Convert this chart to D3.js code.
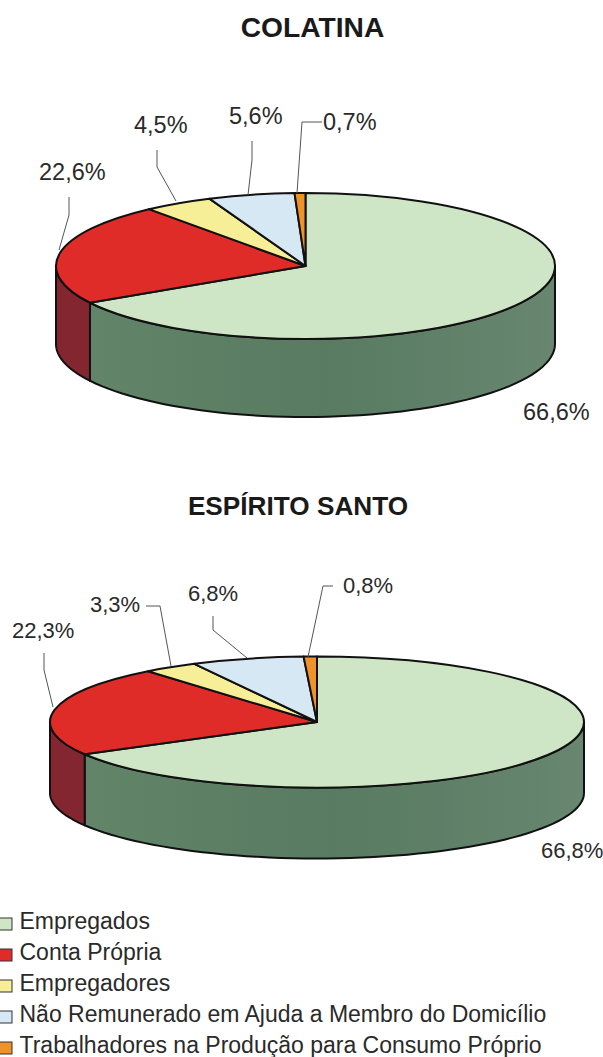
<!DOCTYPE html>
<html><head><meta charset="utf-8">
<script src="https://cdn.jsdelivr.net/npm/d3@7/dist/d3.min.js"></script>
<style>html,body{margin:0;padding:0;background:#fff}svg{display:block}text{font-family:"Liberation Sans",Arial,sans-serif;fill:#2a2a2a}</style>
</head><body><svg id="c" width="603" height="1057"></svg>
<script>
const categories = ["Empregados","Conta Própria","Empregadores","Não Remunerado em Ajuda a Membro do Domicílio","Trabalhadores na Produção para Consumo Próprio"];
const colatinaValues = [66.6,22.6,4.5,5.6,0.7];
const espiritoValues = [66.8,22.3,3.3,6.8,0.8];
const colatinaLabels = ["66,6%","22,6%","4,5%","5,6%","0,7%"];
const espiritoLabels = ["66,8%","22,3%","3,3%","6,8%","0,8%"];
const topColors = ["#cfe6c6","#e02c28","#f7ef98","#d6e8f4","#ee9229"];
const sideColors = ["url(#greenSide)","#84262f","#a8a060","#8ea0ac","#a86a20"];

const layouts = [
 {title:"COLATINA",titleX:312.5,titleY:36.5,titleFs:28.2,values:colatinaValues,labels:colatinaLabels,cx:305.5,cy:266,rx:249.5,ry:73,depth:78,fs:23.5,
  labelPos:[[523,420],[39,180],[134,133],[229,124],[323,130]],
  leaders:[null,[[69,197],[69,215],[59,250]],[[157,150],[157,167],[176,201]],[[252,141],[252,160],[248,195]],[[322,122],[302,122],[297,193]]]},
 {title:"ESPÍRITO SANTO",titleX:298,titleY:515,titleFs:26.2,values:espiritoValues,labels:espiritoLabels,cx:317,cy:722,rx:267,ry:65.5,depth:71,fs:22,
  labelPos:[[541,858],[12,638],[90,612],[188,601],[343,593]],
  leaders:[null,[[44,653],[44,670],[53,707]],[[146,606],[160,606],[171,666]],[[213,616],[213,630],[247,658]],[[333,586],[323,586],[308,657]]]}
];

const svg = d3.select("#c");
const grad = svg.append("defs").append("linearGradient").attr("id","greenSide");
[[0,"#628569"],[0.5,"#587b61"],[1,"#688670"]].forEach(s=>grad.append("stop").attr("offset",s[0]).attr("stop-color",s[1]));
const pie = d3.pie().sort(null).value(d=>d);

layouts.forEach(L=>{
  svg.append("text").attr("x",L.titleX).attr("y",L.titleY).attr("text-anchor","middle")
     .attr("font-size",L.titleFs).attr("font-weight","bold").style("fill","#1a1a1a").text(L.title);
  const arcs = pie(L.values);
  const px = a=>L.cx+L.rx*Math.sin(a), py = a=>L.cy-L.ry*Math.cos(a);
  const g = svg.append("g");
  arcs.forEach((d,i)=>{
    const a0=Math.max(d.startAngle,Math.PI/2), a1=Math.min(d.endAngle,Math.PI*1.5);
    if(a1<=a0) return;
    const ts=d3.range(0,61).map(k=>a0+(a1-a0)*k/60);
    const pts=ts.map(t=>[px(t),py(t)]).concat(ts.slice().reverse().map(t=>[px(t),py(t)+L.depth]));
    g.append("path").attr("d",d3.line()(pts)+"Z").attr("fill",sideColors[i]).attr("stroke","#111").attr("stroke-width",2).attr("stroke-linejoin","round");
  });
  const arc=d3.arc().innerRadius(0).outerRadius(L.rx);
  const top=svg.append("g").attr("transform",`translate(${L.cx},${L.cy}) scale(1,${L.ry/L.rx})`);
  top.selectAll("path").data(arcs).join("path").attr("d",arc).attr("fill",(d,i)=>topColors[i])
     .attr("stroke","#111").attr("stroke-width",2).attr("stroke-linejoin","round").attr("vector-effect","non-scaling-stroke");
  L.leaders.forEach(p=>{ if(p) svg.append("path").attr("d",d3.line()(p)).attr("fill","none").attr("stroke","#555").attr("stroke-width",1); });
  L.labels.forEach((t,i)=>{
    svg.append("text").attr("x",L.labelPos[i][0]).attr("y",L.labelPos[i][1]).attr("font-size",L.fs).text(t);
  });
});

const legendY = d3.scalePoint().domain(categories).range([929,1053]);
const lg = svg.append("g");
categories.forEach((c,i)=>{
  const y=legendY(c);
  lg.append("rect").attr("x",-1).attr("y",y-11).attr("width",13).attr("height",12).attr("fill",topColors[i]).attr("stroke","#333").attr("stroke-width",1);
  lg.append("text").attr("x",19.5).attr("y",y).attr("font-size",23).text(c);
});
</script></body></html>
